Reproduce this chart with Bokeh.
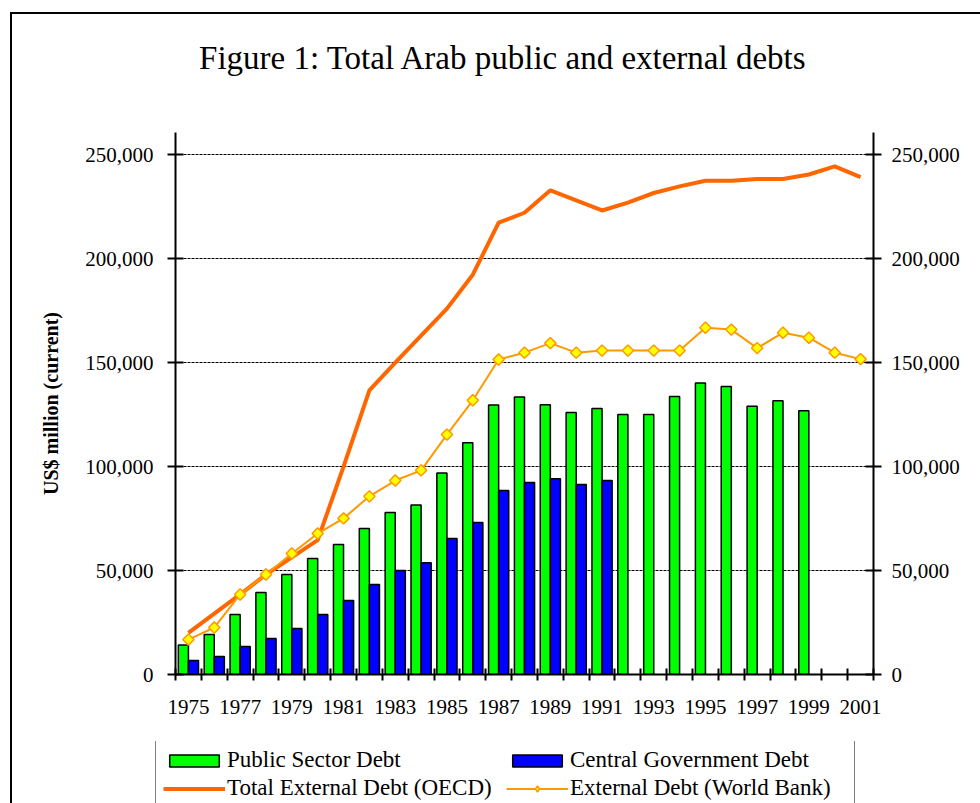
import math
from bokeh.plotting import figure
from bokeh.layouts import column
from bokeh.models import (ColumnDataSource, Range1d, FixedTicker, LinearAxis,
                          NumeralTickFormatter, Legend, LegendItem, Label)
from bokeh.transform import dodge
from bokeh.embed import file_html
from bokeh.resources import INLINE

NAN = float("nan")

years = list(range(1975, 2002))
public_sector_debt = [14200, 19200, 28800, 39400, 48100, 55800, 62500, 70200, 77900, 81500,
                      96900, 111500, 129600, 133500, 129800, 126000, 127900, 125000, 125000,
                      133700, 140200, 138500, 129000, 131700, 126900, NAN, NAN]
central_gov_debt = [6700, 8600, 13500, 17300, 22100, 28800, 35600, 43300, 50000, 53800,
                    65400, 73100, 88500, 92300, 94200, 91400, 93300, NAN, NAN, NAN,
                    NAN, NAN, NAN, NAN, NAN, NAN, NAN]
total_ext_oecd = [20000, 29300, 38500, 48100, 56300, 64600, 100000, 136700, 150000, 163000,
                  176000, 192300, 217300, 222100, 232900, 228000, 223200, 227000, 231600,
                  234800, 237500, 237500, 238300, 238300, 240500, 244400, 239200]
ext_debt_wb = [16800, 22600, 38500, 48100, 58200, 67800, 75100, 85700, 93300, 98200,
               115400, 131900, 151500, 154800, 159400, 154800, 155800, 155800, 155800,
               155800, 166800, 165900, 157000, 164400, 162000, 154800, 151700]
y_ticks = [0, 50000, 100000, 150000, 200000, 250000]
title_text = "Figure 1: Total Arab public and external debts"
labels = ["Public Sector Debt", "Total External Debt (OECD)",
          "Central Government Debt", "External Debt (World Bank)"]

FONT = "Liberation Serif"
W = 968
GREEN, BLUE, OECD_C, WB_C, WB_FILL = "#00FF00", "#0000FF", "#FF6600", "#FF9900", "#FFFF00"


def blank(height):
    f = figure(width=W, height=height, output_backend="svg", toolbar_location=None,
               x_range=Range1d(0, W), y_range=Range1d(0, height),
               x_axis_type=None, y_axis_type=None, min_border=0)
    f.min_border_left = f.min_border_right = f.min_border_top = f.min_border_bottom = 0
    if "frame_align" in f.properties():
        f.frame_align = False
    f.outline_line_color = None
    f.xgrid.visible = False
    f.ygrid.visible = False
    f.background_fill_color = "white"
    f.border_fill_color = "white"
    return f


# ---------------- title strip ----------------
TH = 86
pt = blank(TH)
pt.add_layout(Label(x=491, y=43, text=title_text, text_font=FONT,
                    text_font_size="33px", text_color="black",
                    text_align="center", text_baseline="alphabetic"))

# ---------------- main chart ----------------
n = len(years)
src = ColumnDataSource(dict(
    xc=[i + 0.5 for i in range(n)],
    psd=public_sector_debt, cgd=central_gov_debt,
    oecd=total_ext_oecd, wb=ext_debt_wb,
))

p = figure(width=W, height=641, output_backend="svg", toolbar_location=None,
           x_range=Range1d(0, n), y_range=Range1d(0, 260700))
p.min_border_left = 163
p.min_border_right = 107
p.min_border_top = 32
p.min_border_bottom = 67
p.outline_line_color = None
p.background_fill_color = "white"
p.border_fill_color = "white"

bw = 0.39
p.vbar(x=dodge("xc", -0.195, range=p.x_range), top="psd", width=bw, source=src,
       fill_color=GREEN, line_color="black", line_width=1.5)
p.vbar(x=dodge("xc", 0.195, range=p.x_range), top="cgd", width=bw, source=src,
       fill_color=BLUE, line_color="black", line_width=1.5)
p.line("xc", "oecd", source=src, line_color=OECD_C, line_width=4)
p.line("xc", "wb", source=src, line_color=WB_C, line_width=2)
p.scatter("xc", "wb", source=src, marker="square", angle=math.pi / 4, size=8,
          fill_color=WB_FILL, line_color=WB_C, line_width=1.5)

p.xgrid.visible = False
p.ygrid.ticker = FixedTicker(ticks=y_ticks[1:])
p.ygrid.grid_line_color = "black"
p.ygrid.grid_line_dash = "3 1"
p.ygrid.grid_line_width = 1

xax = p.xaxis[0]
xax.ticker = FixedTicker(ticks=[i + 0.5 for i in range(0, n, 2)],
                         minor_ticks=[float(i) for i in range(n + 1)])
xax.major_label_overrides = {i + 0.5: str(years[i]) for i in range(0, n, 2)}
xax.major_tick_in = 0
xax.major_tick_out = 0
xax.minor_tick_in = 6
xax.minor_tick_out = 6
xax.minor_tick_line_color = "black"
xax.minor_tick_line_width = 2
xax.axis_line_width = 2
xax.axis_line_color = "black"
xax.major_label_standoff = 19
xax.major_label_text_font = FONT
xax.major_label_text_font_size = "21px"
xax.major_label_text_color = "black"

yax = p.yaxis[0]
rax = LinearAxis()
p.add_layout(rax, "right")
for ax, so in ((yax, 14), (rax, 10)):
    ax.ticker = FixedTicker(ticks=y_ticks)
    ax.formatter = NumeralTickFormatter(format="0,0")
    ax.major_tick_in = 8
    ax.major_tick_out = 8
    ax.major_tick_line_width = 2
    ax.major_tick_line_color = "black"
    ax.minor_tick_line_color = None
    ax.axis_line_width = 2
    ax.axis_line_color = "black"
    ax.major_label_standoff = so
    ax.major_label_text_font = FONT
    ax.major_label_text_font_size = "21px"
    ax.major_label_text_color = "black"

yax.axis_label = "US$ million (current)"
yax.axis_label_text_font = FONT
yax.axis_label_text_font_style = "bold"
yax.axis_label_text_font_size = "20px"
yax.axis_label_text_color = "black"
yax.axis_label_standoff = 20

# ---------------- legend strip ----------------
LH = 62
pl = blank(LH)
r_psd = pl.vbar(x=[NAN], top=[NAN], width=1, fill_color=GREEN, line_color="black", line_width=1.5)
r_cgd = pl.vbar(x=[NAN], top=[NAN], width=1, fill_color=BLUE, line_color="black", line_width=1.5)
r_oecd = pl.line(x=[NAN], y=[NAN], line_color=OECD_C, line_width=4)
r_wbl = pl.line(x=[NAN], y=[NAN], line_color=WB_C, line_width=2)
r_wbm = pl.scatter(x=[NAN], y=[NAN], marker="diamond", size=12,
                   fill_color=WB_FILL, line_color=WB_C, line_width=1.5)

legend = Legend(items=[
    LegendItem(label=labels[0], renderers=[r_psd], index=0),
    LegendItem(label=labels[1], renderers=[r_oecd], index=0),
    LegendItem(label=labels[2], renderers=[r_cgd], index=0),
    LegendItem(label=labels[3], renderers=[r_wbl, r_wbm], index=0),
], ncols=2, location=(143, -6))
legend.label_text_font = FONT
legend.label_text_font_size = "23px"
legend.label_text_color = "black"
legend.glyph_width = 62
legend.glyph_height = 15
legend.label_standoff = 2
legend.label_width = 277
legend.spacing = 2
legend.padding = 7
legend.margin = 0
legend.border_line_color = "black"
legend.border_line_width = 1.5
legend.background_fill_color = "white"
legend.background_fill_alpha = 1
pl.add_layout(legend)

layout = column(pt, p, pl, spacing=0,
                styles={"border-left": "2px solid black", "border-top": "2px solid black",
                        "margin-left": "10px", "margin-top": "12px"})

open("out.html", "w").write(file_html(layout, INLINE))
